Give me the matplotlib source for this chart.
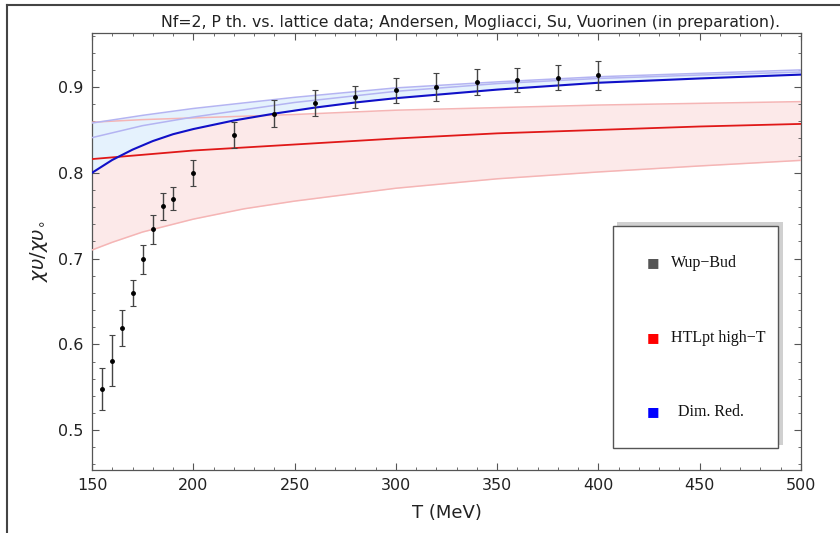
import matplotlib.pyplot as plt
import numpy as np
from matplotlib.patches import Rectangle
from matplotlib.lines import Line2D

plt.rcParams['font.family'] = ['DejaVu Sans']
plt.rcParams['mathtext.fontset'] = 'dejavusans'

# lattice data (Wup-Bud)
T_lat = [155, 160, 165, 170, 175, 180, 185, 190, 200, 220, 240, 260, 280, 300, 320, 340, 360, 380, 400]
chi_lat = [0.548, 0.581, 0.619, 0.660, 0.699, 0.734, 0.761, 0.770, 0.800, 0.844, 0.869, 0.881, 0.888,
           0.896, 0.900, 0.9055, 0.908, 0.911, 0.9137]
err_lat = [0.024, 0.030, 0.021, 0.015, 0.017, 0.017, 0.016, 0.013, 0.015, 0.015, 0.016, 0.015, 0.013,
           0.015, 0.016, 0.015, 0.014, 0.015, 0.017]

# HTLpt high-T (center and band)
T_htl = [150, 175, 200, 250, 300, 350, 400, 450, 500]
htl_mid = [0.816, 0.821, 0.826, 0.833, 0.840, 0.846, 0.850, 0.854, 0.857]
htl_hi = [0.859, 0.862, 0.864, 0.868, 0.873, 0.876, 0.879, 0.881, 0.883]
T_htl_lo = [150, 160, 175, 200, 225, 250, 300, 350, 400, 450, 500]
htl_lo = [0.710, 0.719, 0.731, 0.746, 0.758, 0.767, 0.782, 0.793, 0.801, 0.808, 0.8145]

# dimensional reduction (center and band)
T_dr = [150, 160, 170, 180, 190, 200, 220, 240, 260, 280, 300, 325, 350, 375, 400, 450, 500]
dr_mid = [0.800, 0.815, 0.827, 0.837, 0.845, 0.851, 0.861, 0.869, 0.876, 0.882, 0.887, 0.892, 0.897,
          0.901, 0.905, 0.910, 0.9145]
T_drb = [150, 175, 200, 250, 300, 350, 400, 450, 500]
dr_hi = [0.858, 0.867, 0.875, 0.888, 0.899, 0.906, 0.912, 0.916, 0.920]
dr_hi2 = [0.841, 0.855, 0.865, 0.882, 0.895, 0.904, 0.910, 0.914, 0.9175]

legend_labels = ['Wup\u2212Bud', 'HTLpt high\u2212T', 'Dim. Red.']
legend_colors = ['#555555', '#ff0000', '#0000ff']

fig = plt.figure(figsize=(8.4, 5.33), dpi=100)
ax = fig.add_axes([92/840, 63/533, 709/840, 437/533])

# red band
ax.fill_between(T_htl_lo, htl_lo, np.interp(T_htl_lo, T_htl, htl_hi), color='#fce9e9', lw=0, zorder=1)

# blue band (drawn over the red one)
ax.fill_between(T_dr, dr_mid, np.interp(T_dr, T_drb, dr_hi), color='#e5f2fd', lw=0, zorder=2)

ax.plot(T_htl, htl_hi, color='#f5b5b5', lw=1.1, zorder=3)
ax.plot(T_htl_lo, htl_lo, color='#f5b5b5', lw=1.1, zorder=3)
ax.plot(T_drb, dr_hi, color='#b4b4f2', lw=1.1, zorder=4)
ax.plot(T_drb, dr_hi2, color='#b4b4f2', lw=1.1, zorder=4)

ax.plot(T_htl, htl_mid, color='#e01818', lw=1.3, zorder=5)
ax.plot(T_dr, dr_mid, color='#1010c8', lw=1.5, zorder=6)

ax.errorbar(T_lat, chi_lat, yerr=err_lat, fmt='o', ms=2.5, color='black', ecolor='#444444',
            elinewidth=1.0, capsize=2, capthick=0.8, zorder=7)

ax.set_xlim(150, 500)
ax.set_ylim(0.4535, 0.963)
ax.set_xticks(np.arange(150, 501, 50))
ax.set_xticks(np.arange(150, 501, 10), minor=True)
ax.set_yticks([0.5, 0.6, 0.7, 0.8, 0.9])
ax.set_yticklabels(['0.5', '0.6', '0.7', '0.8', '0.9'])
ax.set_yticks(np.arange(0.46, 0.961, 0.02), minor=True)
ax.tick_params(which='both', direction='in', top=True, right=True, color='#555555',
               labelsize=11.5, labelcolor='#222222', pad=6)
ax.tick_params(which='major', length=5, width=0.8)
ax.tick_params(which='minor', length=2.5, width=0.6)
for s in ax.spines.values():
    s.set_color('#555555')
    s.set_linewidth(0.9)

ax.set_xlabel('T (MeV)', fontsize=13, color='#222222', labelpad=8)
ax.set_ylabel(r'$\chi\upsilon/\chi\upsilon_{\circ}$', fontsize=14, color='#222222', labelpad=6)

fig.text(471/840, 1 - 22/533, 'Nf=2, P th. vs. lattice data; Andersen, Mogliacci, Su, Vuorinen (in preparation).',
         ha='center', va='center', fontsize=11.3, color='#222222')

# legend box with shadow
fig.patches.append(Rectangle((617/840, 1 - 445/533), 166/840, 223/533, transform=fig.transFigure,
                             facecolor='#d0d0d0', edgecolor='none', zorder=8))
fig.patches.append(Rectangle((613/840, 1 - 448/533), 165/840, 222/533, transform=fig.transFigure,
                             facecolor='white', edgecolor='#555555', lw=1.0, zorder=9))
ys = [263, 338, 412]
xs_text = [671, 671, 678]
for lab, col, yy, xt in zip(legend_labels, legend_colors, ys, xs_text):
    fig.text(653/840, 1 - yy/533, '\u25A0', color=col, ha='center', va='center', fontsize=9.5, zorder=10)
    fig.text(xt/840, 1 - yy/533, lab, family='Liberation Serif', fontsize=11.5, ha='left', va='center',
             color='#111111', zorder=10)

# outer frame (left and top edges)
fig.lines.append(Line2D([7/840, 7/840], [0, 1 - 5/533], transform=fig.transFigure, color='#444444', lw=1.5))
fig.lines.append(Line2D([7/840, 1], [1 - 5/533, 1 - 5/533], transform=fig.transFigure, color='#444444', lw=1.5))

fig.savefig('out.png', dpi=100)
